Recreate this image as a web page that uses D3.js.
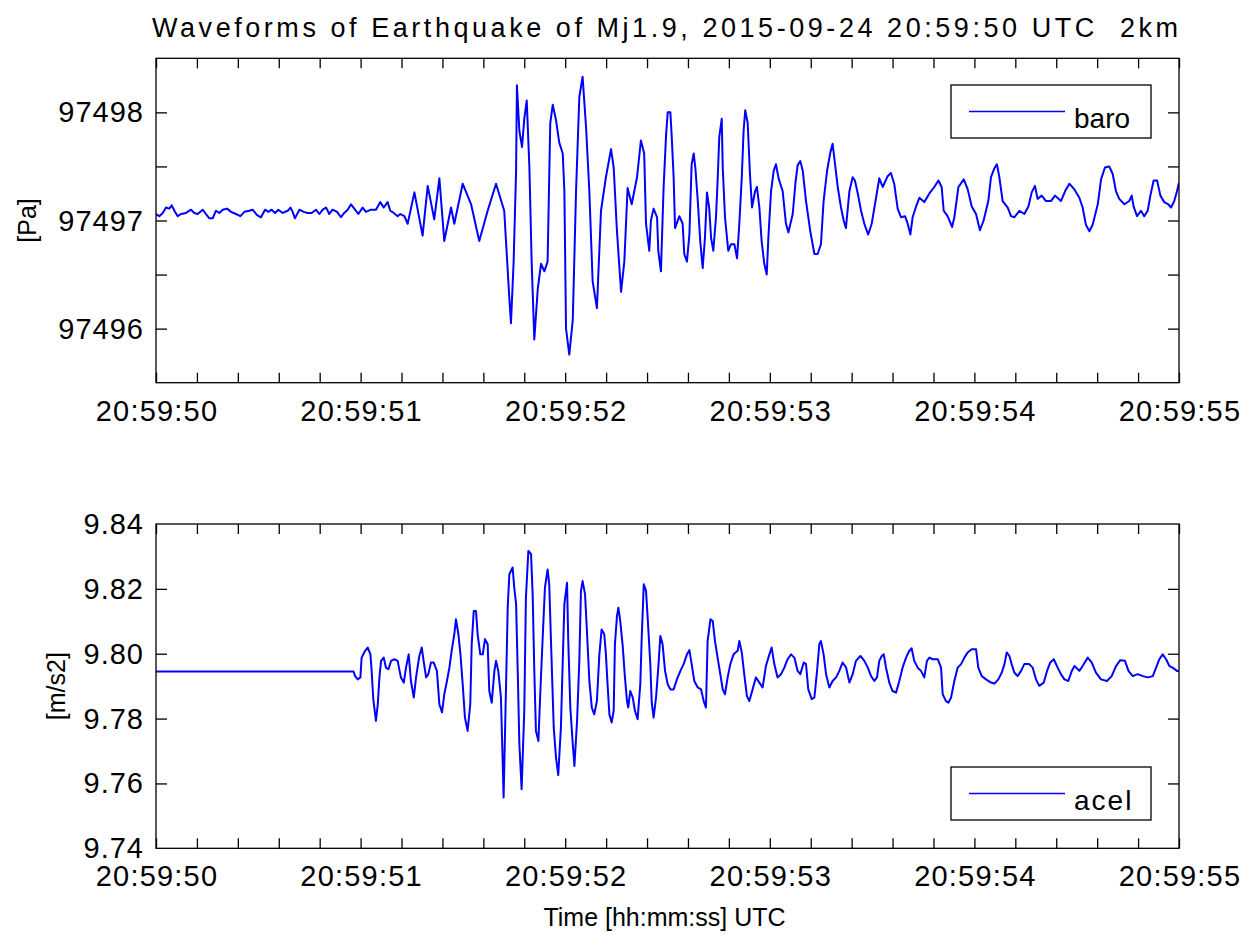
<!DOCTYPE html>
<html>
<head>
<meta charset="utf-8">
<script src="https://cdn.jsdelivr.net/npm/d3@7"></script>
<style>
body { margin: 0; background: #fff; }
text { font-family: "Liberation Sans", Arial, sans-serif; fill: #000; }
</style>
</head>
<body>
<svg id="chart" width="1249" height="935"></svg>
<script>
// chart texts
var chartTitle = "Waveforms of Earthquake of Mj1.9, 2015-09-24 20:59:50 UTC  2km";
var xAxisTitle = "Time [hh:mm:ss] UTC";

// time axis: seconds after 20:59:50
var xTickSeconds = [0, 1, 2, 3, 4, 5];
var xTickLabels = ["20:59:50", "20:59:51", "20:59:52", "20:59:53", "20:59:54", "20:59:55"];

var baroTicks = [97496, 97497, 97498];
var baroTickLabels = ["97496", "97497", "97498"];
var acelTicks = [9.74, 9.76, 9.78, 9.80, 9.82, 9.84];
var acelTickLabels = ["9.74", "9.76", "9.78", "9.80", "9.82", "9.84"];

// barometer [Pa]
var baroSec = [
  0, 0.016, 0.033, 0.049, 0.065, 0.077, 0.090, 0.106, 0.122, 0.147,
  0.171, 0.187, 0.204, 0.228, 0.244, 0.261, 0.277, 0.293, 0.310, 0.326,
  0.347, 0.367, 0.391, 0.412, 0.432, 0.456, 0.472, 0.494, 0.513, 0.533,
  0.549, 0.565, 0.582, 0.598, 0.619, 0.644, 0.657, 0.668, 0.679, 0.701,
  0.722, 0.741, 0.761, 0.782, 0.798, 0.815, 0.831, 0.847, 0.863, 0.885,
  0.904, 0.920, 0.937, 0.953, 0.973, 0.989, 1.010, 1.026, 1.051, 1.075,
  1.096, 1.113, 1.132, 1.145, 1.162, 1.181, 1.194, 1.214, 1.230, 1.263,
  1.303, 1.328, 1.360, 1.385, 1.409, 1.442, 1.458, 1.499, 1.540, 1.580,
  1.621, 1.662, 1.702, 1.727, 1.735, 1.748, 1.760, 1.764, 1.776, 1.789,
  1.800, 1.812, 1.825, 1.836, 1.849, 1.866, 1.882, 1.898, 1.914, 1.927,
  1.939, 1.955, 1.971, 1.988, 1.996, 2.004, 2.020, 2.037, 2.053, 2.069,
  2.085, 2.102, 2.118, 2.134, 2.155, 2.175, 2.199, 2.224, 2.237, 2.253,
  2.273, 2.289, 2.305, 2.325, 2.351, 2.370, 2.386, 2.395, 2.411, 2.419,
  2.432, 2.449, 2.455, 2.468, 2.481, 2.493, 2.501, 2.514, 2.520, 2.530,
  2.537, 2.558, 2.574, 2.582, 2.595, 2.607, 2.618, 2.628, 2.636, 2.648,
  2.660, 2.672, 2.683, 2.693, 2.704, 2.713, 2.724, 2.737, 2.745, 2.753,
  2.765, 2.770, 2.781, 2.797, 2.810, 2.827, 2.840, 2.851, 2.863, 2.872,
  2.880, 2.892, 2.903, 2.913, 2.928, 2.937, 2.949, 2.960, 2.973, 2.985,
  2.993, 3.006, 3.019, 3.030, 3.043, 3.063, 3.079, 3.091, 3.112, 3.125,
  3.136, 3.149, 3.161, 3.177, 3.198, 3.218, 3.234, 3.250, 3.263, 3.280,
  3.296, 3.307, 3.319, 3.332, 3.348, 3.361, 3.372, 3.389, 3.405, 3.416,
  3.430, 3.446, 3.462, 3.481, 3.498, 3.514, 3.535, 3.552, 3.576, 3.592,
  3.608, 3.625, 3.641, 3.661, 3.674, 3.687, 3.698, 3.715, 3.731, 3.755,
  3.780, 3.804, 3.824, 3.840, 3.850, 3.869, 3.891, 3.902, 3.922, 3.948,
  3.967, 3.987, 4.008, 4.027, 4.045, 4.068, 4.081, 4.097, 4.110, 4.122,
  4.138, 4.163, 4.179, 4.195, 4.220, 4.244, 4.264, 4.280, 4.296, 4.309,
  4.329, 4.350, 4.374, 4.394, 4.423, 4.443, 4.464, 4.488, 4.513, 4.529,
  4.545, 4.562, 4.578, 4.603, 4.619, 4.638, 4.659, 4.676, 4.692, 4.708,
  4.733, 4.757, 4.769, 4.778, 4.795, 4.814, 4.830, 4.847, 4.860, 4.876,
  4.893, 4.909, 4.928, 4.948, 4.961, 4.977, 4.990, 5.000
];
var baroPa = [
  97497.06, 97497.04, 97497.07, 97497.12, 97497.11, 97497.14, 97497.09, 97497.04, 97497.06, 97497.07,
  97497.10, 97497.07, 97497.06, 97497.10, 97497.06, 97497.02, 97497.02, 97497.09, 97497.07, 97497.10,
  97497.11, 97497.08, 97497.06, 97497.04, 97497.08, 97497.09, 97497.10, 97497.05, 97497.03, 97497.10,
  97497.08, 97497.10, 97497.07, 97497.10, 97497.07, 97497.09, 97497.12, 97497.08, 97497.02, 97497.10,
  97497.08, 97497.07, 97497.07, 97497.10, 97497.06, 97497.10, 97497.12, 97497.06, 97497.10, 97497.08,
  97497.03, 97497.07, 97497.10, 97497.15, 97497.10, 97497.06, 97497.12, 97497.08, 97497.10, 97497.10,
  97497.17, 97497.12, 97497.17, 97497.09, 97497.07, 97497.04, 97497.06, 97497.04, 97496.97, 97497.26,
  97496.86, 97497.32, 97497.01, 97497.39, 97496.81, 97497.12, 97496.97, 97497.34, 97497.15, 97496.81,
  97497.09, 97497.34, 97497.09, 97496.28, 97496.05, 97496.62, 97497.46, 97498.25, 97497.83, 97497.68,
  97497.94, 97498.11, 97497.49, 97496.62, 97495.90, 97496.37, 97496.60, 97496.53, 97496.62, 97497.90,
  97498.07, 97497.93, 97497.72, 97497.62, 97497.27, 97496.00, 97495.76, 97496.08, 97497.27, 97498.14,
  97498.33, 97497.86, 97497.27, 97496.44, 97496.19, 97497.09, 97497.40, 97497.66, 97497.49, 97496.90,
  97496.34, 97496.62, 97497.30, 97497.15, 97497.40, 97497.74, 97497.62, 97496.97, 97496.72, 97497.00,
  97497.11, 97497.03, 97496.72, 97496.53, 97497.31, 97497.79, 97498.00, 97498.00, 97497.80, 97497.40,
  97496.93, 97497.04, 97496.97, 97496.69, 97496.62, 97496.87, 97497.52, 97497.62, 97497.49, 97497.18,
  97496.81, 97496.56, 97496.84, 97497.26, 97497.11, 97496.84, 97496.72, 97497.03, 97497.37, 97497.77,
  97497.94, 97497.49, 97497.03, 97496.72, 97496.78, 97496.78, 97496.65, 97496.97, 97497.40, 97497.83,
  97498.02, 97497.90, 97497.43, 97497.12, 97497.27, 97497.31, 97497.12, 97496.81, 97496.60, 97496.50,
  97496.84, 97497.27, 97497.46, 97497.52, 97497.39, 97497.27, 97496.97, 97496.89, 97497.06, 97497.34,
  97497.51, 97497.55, 97497.46, 97497.18, 97496.90, 97496.69, 97496.69, 97496.78, 97497.18, 97497.46,
  97497.63, 97497.71, 97497.52, 97497.31, 97497.12, 97497.00, 97496.93, 97497.27, 97497.40, 97497.37,
  97497.25, 97497.09, 97496.97, 97496.87, 97496.97, 97497.15, 97497.39, 97497.31, 97497.41, 97497.44,
  97497.34, 97497.11, 97497.03, 97497.04, 97496.97, 97496.87, 97497.03, 97497.13, 97497.21, 97497.17,
  97497.25, 97497.31, 97497.37, 97497.31, 97497.09, 97497.04, 97496.94, 97497.03, 97497.31, 97497.38,
  97497.29, 97497.13, 97497.06, 97496.91, 97497.00, 97497.18, 97497.40, 97497.48, 97497.52, 97497.40,
  97497.18, 97497.12, 97497.04, 97497.03, 97497.09, 97497.06, 97497.13, 97497.26, 97497.32, 97497.20,
  97497.23, 97497.18, 97497.18, 97497.23, 97497.18, 97497.27, 97497.34, 97497.29, 97497.21, 97497.12,
  97496.96, 97496.90, 97496.96, 97497.15, 97497.38, 97497.49, 97497.50, 97497.43, 97497.27, 97497.20,
  97497.15, 97497.18, 97497.23, 97497.13, 97497.04, 97497.09, 97497.04, 97497.09, 97497.23, 97497.37,
  97497.37, 97497.23, 97497.17, 97497.15, 97497.12, 97497.18, 97497.27, 97497.35
];

// accelerometer [m/s2]
var acelSec = [
  0, 0.966, 0.973, 0.986, 0.999, 1.005, 1.022, 1.035, 1.048, 1.054,
  1.062, 1.075, 1.084, 1.092, 1.100, 1.113, 1.124, 1.136, 1.149, 1.165,
  1.181, 1.197, 1.211, 1.222, 1.235, 1.246, 1.260, 1.271, 1.287, 1.299,
  1.308, 1.320, 1.331, 1.344, 1.357, 1.373, 1.385, 1.398, 1.409, 1.422,
  1.434, 1.445, 1.458, 1.466, 1.478, 1.488, 1.499, 1.510, 1.523, 1.536,
  1.543, 1.553, 1.564, 1.572, 1.585, 1.597, 1.608, 1.621, 1.629, 1.641,
  1.654, 1.662, 1.673, 1.686, 1.699, 1.711, 1.719, 1.727, 1.743, 1.751,
  1.760, 1.768, 1.776, 1.787, 1.800, 1.808, 1.820, 1.833, 1.841, 1.849,
  1.857, 1.869, 1.878, 1.890, 1.901, 1.914, 1.922, 1.931, 1.944, 1.955,
  1.966, 1.979, 1.988, 1.996, 2.009, 2.015, 2.025, 2.037, 2.045, 2.058,
  2.069, 2.077, 2.085, 2.097, 2.107, 2.118, 2.130, 2.142, 2.155, 2.167,
  2.178, 2.191, 2.199, 2.207, 2.216, 2.227, 2.237, 2.243, 2.253, 2.260,
  2.269, 2.281, 2.292, 2.302, 2.308, 2.318, 2.330, 2.341, 2.354, 2.367,
  2.374, 2.384, 2.395, 2.403, 2.416, 2.423, 2.432, 2.444, 2.455, 2.465,
  2.476, 2.488, 2.501, 2.514, 2.530, 2.546, 2.563, 2.579, 2.595, 2.607,
  2.618, 2.631, 2.648, 2.664, 2.677, 2.688, 2.696, 2.710, 2.721, 2.732,
  2.745, 2.758, 2.770, 2.781, 2.794, 2.807, 2.823, 2.843, 2.851, 2.863,
  2.875, 2.888, 2.900, 2.916, 2.932, 2.949, 2.965, 2.981, 2.998, 3.009,
  3.022, 3.038, 3.055, 3.071, 3.087, 3.104, 3.120, 3.136, 3.149, 3.166,
  3.177, 3.188, 3.205, 3.218, 3.231, 3.242, 3.250, 3.263, 3.275, 3.291,
  3.307, 3.324, 3.340, 3.356, 3.373, 3.389, 3.405, 3.421, 3.443, 3.462,
  3.479, 3.495, 3.511, 3.524, 3.535, 3.547, 3.557, 3.568, 3.584, 3.600,
  3.617, 3.633, 3.649, 3.666, 3.682, 3.693, 3.706, 3.723, 3.739, 3.755,
  3.768, 3.780, 3.796, 3.821, 3.837, 3.845, 3.861, 3.873, 3.886, 3.902,
  3.918, 3.935, 3.951, 3.967, 3.987, 4.008, 4.019, 4.036, 4.057, 4.081,
  4.098, 4.117, 4.134, 4.147, 4.158, 4.171, 4.182, 4.195, 4.211, 4.228,
  4.244, 4.268, 4.285, 4.301, 4.317, 4.339, 4.355, 4.371, 4.388, 4.407,
  4.423, 4.440, 4.459, 4.476, 4.489, 4.513, 4.529, 4.554, 4.573, 4.594,
  4.619, 4.648, 4.671, 4.692, 4.713, 4.736, 4.753, 4.774, 4.798, 4.823,
  4.847, 4.872, 4.888, 4.904, 4.920, 4.937, 4.953, 4.969, 4.990, 5.000
];
var acelMs2 = [
  9.7945, 9.7945, 9.7931, 9.7921, 9.7927, 9.7988, 9.8009, 9.8019, 9.7998, 9.7947,
  9.7860, 9.7793, 9.7844, 9.7927, 9.7978, 9.7988, 9.7957, 9.7952, 9.7978, 9.7983,
  9.7978, 9.7927, 9.7911, 9.7957, 9.7998, 9.7916, 9.7865, 9.7927, 9.7993, 9.8019,
  9.7978, 9.7927, 9.7937, 9.7973, 9.7973, 9.7947, 9.7844, 9.7819, 9.7875, 9.7916,
  9.7957, 9.8009, 9.8060, 9.8106, 9.8060, 9.7998, 9.7906, 9.7803, 9.7762, 9.7844,
  9.8029, 9.8132, 9.8132, 9.8060, 9.7998, 9.7998, 9.8045, 9.8029, 9.7885, 9.7849,
  9.7947, 9.7978, 9.7947, 9.7865, 9.7557, 9.7906, 9.8142, 9.8245, 9.8266, 9.8204,
  9.8153, 9.7947, 9.7721, 9.7582, 9.7824, 9.8173, 9.8317, 9.8307, 9.8183, 9.7947,
  9.7762, 9.7731, 9.7875, 9.8050, 9.8204, 9.8260, 9.8214, 9.8029, 9.7772, 9.7680,
  9.7626, 9.7772, 9.7978, 9.8153, 9.8219, 9.8039, 9.7834, 9.7721, 9.7654, 9.7793,
  9.7978, 9.8194, 9.8224, 9.8183, 9.8060, 9.7916, 9.7834, 9.7813, 9.7854, 9.7998,
  9.8075, 9.8060, 9.7998, 9.7906, 9.7813, 9.7788, 9.7824, 9.8029, 9.8116, 9.8142,
  9.8101, 9.8024, 9.7927, 9.7854, 9.7834, 9.7885, 9.7865, 9.7824, 9.7798, 9.7906,
  9.8050, 9.8214, 9.8194, 9.8112, 9.7968, 9.7849, 9.7803, 9.7865, 9.7957, 9.8055,
  9.8029, 9.7947, 9.7906, 9.7890, 9.7890, 9.7921, 9.7947, 9.7968, 9.7998, 9.8011,
  9.7968, 9.7916, 9.7896, 9.7890, 9.7854, 9.7834, 9.8039, 9.8106, 9.8101, 9.8039,
  9.7988, 9.7937, 9.7890, 9.7875, 9.7927, 9.7968, 9.7998, 9.8009, 9.8039, 9.8004,
  9.7937, 9.7870, 9.7854, 9.7890, 9.7927, 9.7911, 9.7896, 9.7962, 9.7998, 9.8019,
  9.7968, 9.7927, 9.7937, 9.7957, 9.7983, 9.7998, 9.7988, 9.7947, 9.7937, 9.7973,
  9.7968, 9.7890, 9.7860, 9.7865, 9.7947, 9.8029, 9.8039, 9.7998, 9.7937, 9.7896,
  9.7916, 9.7927, 9.7947, 9.7973, 9.7957, 9.7911, 9.7937, 9.7978, 9.7993, 9.7978,
  9.7957, 9.7931, 9.7916, 9.7927, 9.7978, 9.7993, 9.7998, 9.7957, 9.7911, 9.7885,
  9.7880, 9.7916, 9.7957, 9.7988, 9.8009, 9.8017, 9.7978, 9.7957, 9.7947, 9.7927,
  9.7978, 9.7988, 9.7983, 9.7983, 9.7957, 9.7875, 9.7854, 9.7849, 9.7865, 9.7916,
  9.7957, 9.7968, 9.7988, 9.8004, 9.8014, 9.8014, 9.7957, 9.7931, 9.7921, 9.7911,
  9.7908, 9.7921, 9.7942, 9.7968, 9.8004, 9.7993, 9.7968, 9.7942, 9.7931, 9.7947,
  9.7968, 9.7968, 9.7957, 9.7921, 9.7901, 9.7911, 9.7947, 9.7973, 9.7983, 9.7957,
  9.7937, 9.7921, 9.7916, 9.7947, 9.7962, 9.7947, 9.7962, 9.7988, 9.7973, 9.7942,
  9.7921, 9.7916, 9.7931, 9.7962, 9.7980, 9.7978, 9.7947, 9.7931, 9.7937, 9.7931,
  9.7927, 9.7931, 9.7957, 9.7983, 9.7998, 9.7983, 9.7962, 9.7957, 9.7947, 9.7947
];

var lineColor = "#0000ff";
var svg = d3.select("#chart");

var plotLeft = 156, plotRight = 1179;
var x = d3.scaleLinear().domain([0, 5]).range([plotLeft, plotRight]);
var minorSec = d3.range(0, 5.0001, 0.2);

// title
svg.append("text")
  .attr("x", plotLeft - 4)
  .attr("y", 37)
  .attr("textLength", 1026)
  .attr("lengthAdjust", "spacing")
  .style("font-size", "27px")
  .style("white-space", "pre")
  .text(chartTitle);

function drawPanel(opt) {
  var y = d3.scaleLinear().domain(opt.domain).range([opt.bottom, opt.top]);
  var g = svg.append("g");

  g.append("clipPath").attr("id", opt.id + "-clip")
    .append("rect")
      .attr("x", plotLeft).attr("y", opt.top)
      .attr("width", plotRight - plotLeft).attr("height", opt.bottom - opt.top);

  var line = d3.line()
    .x(function(d) { return x(d[0]); })
    .y(function(d) { return y(d[1]); });

  g.append("path")
    .datum(d3.zip(opt.sec, opt.vals))
    .attr("clip-path", "url(#" + opt.id + "-clip)")
    .attr("d", line)
    .attr("fill", "none")
    .attr("stroke", lineColor)
    .attr("stroke-width", 2)
    .attr("stroke-linejoin", "round");

  // inward ticks on all four sides
  function ticks(axis, tx, ty) {
    var a = g.append("g").attr("transform", "translate(" + tx + "," + ty + ")").call(axis);
    a.select(".domain").remove();
    a.selectAll("line").attr("stroke", "#000").attr("stroke-width", 1.3);
    a.selectAll("text").remove();
  }
  ticks(d3.axisBottom(x).tickValues(minorSec).tickSizeInner(-10).tickSizeOuter(0), 0, opt.bottom);
  ticks(d3.axisTop(x).tickValues(minorSec).tickSizeInner(-10).tickSizeOuter(0), 0, opt.top);
  ticks(d3.axisLeft(y).tickValues(opt.yTicks).tickSizeInner(-11).tickSizeOuter(0), plotLeft, 0);
  ticks(d3.axisRight(y).tickValues(opt.yTicks).tickSizeInner(-11).tickSizeOuter(0), plotRight, 0);

  g.append("rect")
    .attr("x", plotLeft).attr("y", opt.top)
    .attr("width", plotRight - plotLeft).attr("height", opt.bottom - opt.top)
    .attr("fill", "none").attr("stroke", "#000").attr("stroke-width", 1.3);

  // tick labels
  g.selectAll("text.ylab")
    .data(opt.labelTicks)
    .enter().append("text")
      .attr("class", "ylab")
      .attr("x", plotLeft - 12)
      .attr("y", function(d) { return y(d) + 10; })
      .attr("text-anchor", "end")
      .style("font-size", "29px")
      .style("letter-spacing", "1px")
      .text(function(d, i) { return opt.labelText[i]; });

  g.selectAll("text.xlab")
    .data(xTickSeconds)
    .enter().append("text")
      .attr("class", "xlab")
      .attr("x", function(d) { return x(d) + 1; })
      .attr("y", opt.bottom + 38)
      .attr("text-anchor", "middle")
      .style("font-size", "29px")
      .style("letter-spacing", "1.2px")
      .text(function(d, i) { return xTickLabels[i]; });

  // axis unit label
  g.append("text")
    .attr("transform", "translate(" + opt.unitX + "," + y(opt.unitAt) + ") rotate(-90)")
    .attr("text-anchor", "middle")
    .attr("dominant-baseline", "central")
    .style("font-size", "25px")
    .text(opt.unit);

  // legend
  var lg = g.append("g").attr("transform", "translate(951," + opt.legendTop + ")");
  lg.append("rect").attr("width", 200).attr("height", 53)
    .attr("fill", "#fff").attr("stroke", "#000").attr("stroke-width", 1.3);
  lg.append("line").attr("x1", 18).attr("x2", 114).attr("y1", 26.5).attr("y2", 26.5)
    .attr("stroke", lineColor).attr("stroke-width", 1.7);
  lg.append("text").attr("x", 123).attr("y", 43)
    .style("font-size", "28px")
    .style("letter-spacing", opt.legendSpacing)
    .text(opt.name);
}

drawPanel({
  id: "baro", name: "baro", unit: "[Pa]", unitX: 27, unitAt: 97497,
  top: 58.3, bottom: 382.7, domain: [97495.5, 97498.5],
  sec: baroSec, vals: baroPa,
  yTicks: [97496, 97496.5, 97497, 97497.5, 97498],
  labelTicks: baroTicks, labelText: baroTickLabels,
  legendTop: 85, legendSpacing: "0px"
});

drawPanel({
  id: "acel", name: "acel", unit: "[m/s2]", unitX: 56, unitAt: 9.79,
  top: 524, bottom: 848.3, domain: [9.74, 9.84],
  sec: acelSec, vals: acelMs2,
  yTicks: [9.76, 9.78, 9.80, 9.82],
  labelTicks: acelTicks, labelText: acelTickLabels,
  legendTop: 767, legendSpacing: "2px"
});

svg.append("text")
  .attr("x", (plotLeft + plotRight) / 2 - 3)
  .attr("y", 926)
  .attr("text-anchor", "middle")
  .style("font-size", "25px")
  .text(xAxisTitle);
</script>
</body>
</html>
